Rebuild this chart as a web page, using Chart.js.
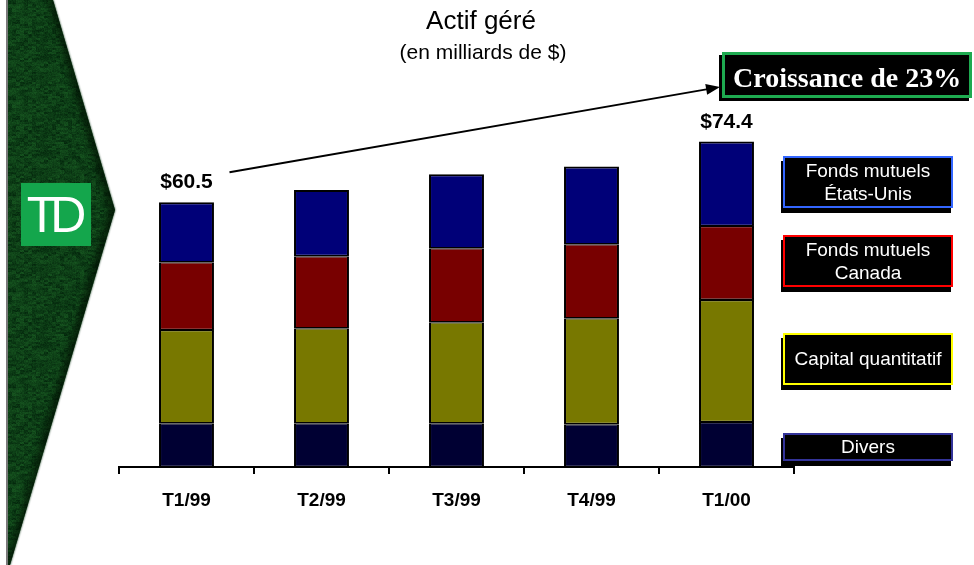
<!DOCTYPE html>
<html lang="fr">
<head>
<meta charset="utf-8">
<title>Actif géré</title>
<script src="https://cdn.jsdelivr.net/npm/chart.js@4.4.1/dist/chart.umd.min.js"></script>
<style>
  html, body { margin: 0; padding: 0; background: #ffffff; }
  canvas { display: block; }
</style>
</head>
<body>
<canvas id="chart" width="974" height="565"></canvas>
<script>
// Actif géré par trimestre (en milliards de $)
const categories = ['T1/99', 'T2/99', 'T3/99', 'T4/99', 'T1/00'];
const divers = [10.0, 10.0, 10.0, 9.8, 10.3];
const capitalQuantitatif = [21.3, 21.7, 23.1, 24.2, 27.9];
const fondsCanada = [15.5, 16.5, 16.9, 16.9, 16.9];
const fondsEtatsUnis = [13.7, 15.1, 16.9, 17.8, 19.3];
const seriesNames = [
  ['Divers'],
  ['Capital quantitatif'],
  ['Fonds mutuels', 'Canada'],
  ['Fonds mutuels', 'États-Unis']
];
const totalLabelIndexes = [0, 4];
const titleText = 'Actif géré';
const subtitleText = '(en milliards de $)';

const SANS = '"Liberation Sans", Arial, Helvetica, sans-serif';
const SERIF = '"Liberation Serif", "Times New Roman", serif';

const fills = ['#000033', '#787800', '#780000', '#000078'];
const frameColors = ['#333399', '#ffff00', '#ff0000', '#3366ff'];
const seriesData = [divers, capitalQuantitatif, fondsCanada, fondsEtatsUnis];
const totals = categories.map((_, i) => seriesData.reduce((s, d) => s + d[i], 0));

// deterministic grain for the green side panel
function grain(x, y) {
  const v = Math.sin(x * 12.9898 + y * 78.233) * 43758.5453;
  return v - Math.floor(v);
}
function makeLeather() {
  const size = 96;
  const c = document.createElement('canvas');
  c.width = size; c.height = size;
  const g = c.getContext('2d');
  const img = g.createImageData(size, size);
  for (let y = 0; y < size; y++) {
    for (let x = 0; x < size; x++) {
      const v = 0.4 * grain(x, y) + 0.6 * grain(Math.floor(x / 4), Math.floor(y / 2) + 400);
      const k = (y * size + x) * 4;
      img.data[k] = 3 + v * 20;
      img.data[k + 1] = 38 + v * 48;
      img.data[k + 2] = 12 + v * 20;
      img.data[k + 3] = 255;
    }
  }
  g.putImageData(img, 0, 0);
  const soft = document.createElement('canvas');
  soft.width = size; soft.height = size;
  const sg = soft.getContext('2d');
  sg.filter = 'blur(0.7px)';
  for (let dx = -size; dx <= size; dx += size)
    for (let dy = -size; dy <= size; dy += size) sg.drawImage(c, dx, dy);
  return soft;
}

const sidePanel = {
  id: 'sidePanel',
  beforeDraw(chart) {
    const ctx = chart.ctx;
    ctx.save();
    ctx.fillStyle = '#ffffff';
    ctx.fillRect(0, 0, chart.width, chart.height);

    const poly = [[8, 0], [53, 0], [115, 210], [10, 565], [8, 565]];
    ctx.filter = 'blur(0.8px)';
    ctx.beginPath();
    poly.forEach((p, i) => i ? ctx.lineTo(p[0], p[1]) : ctx.moveTo(p[0], p[1]));
    ctx.closePath();
    ctx.fillStyle = '#06300f';
    ctx.fill();
    ctx.filter = 'none';
    ctx.save();
    ctx.beginPath();
    poly.forEach((p, i) => i ? ctx.lineTo(p[0], p[1]) : ctx.moveTo(p[0], p[1]));
    ctx.closePath();
    ctx.clip();
    ctx.fillStyle = ctx.createPattern(makeLeather(), 'repeat');
    ctx.fillRect(0, 0, 130, 565);
    // darker bevel along the pointed edge
    ctx.filter = 'blur(3px)';
    ctx.strokeStyle = 'rgba(0,10,0,0.6)';
    ctx.lineWidth = 12;
    ctx.beginPath();
    ctx.moveTo(53, -5); ctx.lineTo(115, 210); ctx.lineTo(10, 570);
    ctx.stroke();
    ctx.filter = 'none';
    ctx.restore();

    // thin grey rule on the far left
    ctx.fillStyle = '#7a7a7a';
    ctx.fillRect(6, 0, 2, 565);

    // TD logo
    ctx.fillStyle = '#14a64c';
    ctx.fillRect(21, 183, 70, 63);
    ctx.fillStyle = '#ffffff';
    ctx.font = '50px "Liberation Sans Narrow", ' + SANS;
    ctx.textAlign = 'center';
    ctx.textBaseline = 'alphabetic';
    if ('letterSpacing' in ctx) ctx.letterSpacing = '-7px';
    ctx.fillText('TD', 53, 232);
    if ('letterSpacing' in ctx) ctx.letterSpacing = '0px';
    ctx.restore();
  },
  afterDraw(chart) {
    const ctx = chart.ctx;
    const xs = chart.scales.x;
    const ys = chart.scales.y;
    ctx.save();

    // titles
    ctx.fillStyle = '#000000';
    ctx.textAlign = 'center';
    ctx.textBaseline = 'alphabetic';
    ctx.font = '26px ' + SANS;
    ctx.fillText(titleText, 481, 29);
    ctx.font = '21px ' + SANS;
    ctx.fillText(subtitleText, 483, 59);

    // totals above first and last bars
    ctx.font = 'bold 21px ' + SANS;
    totalLabelIndexes.forEach(i => {
      const x = xs.getPixelForValue(i);
      const y = ys.getPixelForValue(totals[i]);
      ctx.fillText('$' + totals[i].toFixed(1), x, y - 14);
    });

    // growth box
    const first = totalLabelIndexes[0];
    const last = totalLabelIndexes[totalLabelIndexes.length - 1];
    const growth = Math.round((totals[last] / totals[first] - 1) * 100);
    const bx = 722, by = 52, bw = 250, bh = 46;
    ctx.fillStyle = '#000000';
    ctx.fillRect(bx - 3, by + 3, bw, bh);
    ctx.fillRect(bx, by, bw, bh);
    ctx.strokeStyle = '#1eaa50';
    ctx.lineWidth = 3;
    ctx.strokeRect(bx + 1.5, by + 1.5, bw - 3, bh - 3);
    ctx.fillStyle = '#ffffff';
    ctx.font = 'bold 28px ' + SERIF;
    ctx.textAlign = 'left';
    ctx.fillText('Croissance de ' + growth + '%', 733, 87);

    // arrow from the first total toward the growth box
    const sx = xs.getPixelForValue(first) + 43;
    const sy = ys.getPixelForValue(totals[first]) - 30;
    const ex = bx - 2, ey = 87;
    const ang = Math.atan2(ey - sy, ex - sx);
    ctx.strokeStyle = '#000000';
    ctx.lineWidth = 2;
    ctx.beginPath();
    ctx.moveTo(sx, sy);
    ctx.lineTo(ex - 11 * Math.cos(ang), ey - 11 * Math.sin(ang));
    ctx.stroke();
    ctx.fillStyle = '#000000';
    ctx.beginPath();
    ctx.moveTo(ex, ey);
    ctx.lineTo(ex - 14 * Math.cos(ang) + 5.5 * Math.sin(ang), ey - 14 * Math.sin(ang) - 5.5 * Math.cos(ang));
    ctx.lineTo(ex - 14 * Math.cos(ang) - 5.5 * Math.sin(ang), ey - 14 * Math.sin(ang) + 5.5 * Math.cos(ang));
    ctx.closePath();
    ctx.fill();

    // series key boxes, centred on the segments of the last bar
    const lastIdx = categories.length - 1;
    let base = 0;
    const lx = 783, lw = 170;
    ctx.font = '19px ' + SANS;
    ctx.textAlign = 'center';
    ctx.textBaseline = 'middle';
    seriesData.forEach((d, s) => {
      const mid = ys.getPixelForValue(base + d[lastIdx] / 2);
      base += d[lastIdx];
      const lines = seriesNames[s];
      const h = s === 0 ? 28 : 52;
      const top = Math.round(mid - h / 2) + (s === 0 ? 3 : -2);
      ctx.fillStyle = '#000000';
      ctx.fillRect(lx - 2, top + 5, lw, h);
      ctx.fillRect(lx, top, lw, h);
      ctx.strokeStyle = frameColors[s];
      ctx.lineWidth = 2;
      ctx.strokeRect(lx + 1, top + 1, lw - 2, h - 2);
      ctx.fillStyle = '#ffffff';
      const cy = top + h / 2 + 1;
      if (lines.length === 1) {
        ctx.fillText(lines[0], lx + lw / 2, cy);
      } else {
        ctx.fillText(lines[0], lx + lw / 2, cy - 11.5);
        ctx.fillText(lines[1], lx + lw / 2, cy + 11.5);
      }
    });
    ctx.restore();
  }
};

const datasets = seriesData.map((d, s) => ({
  label: seriesNames[s].join(' '),
  data: d,
  backgroundColor: fills[s],
  borderColor: '#000000',
  borderWidth: { left: 2, right: 2, top: s === seriesData.length - 1 ? 2 : 1.3, bottom: 1.3 },
  borderSkipped: false,
  barPercentage: 0.407,
  categoryPercentage: 1.0
}));

new Chart(document.getElementById('chart'), {
  type: 'bar',
  data: { labels: categories, datasets },
  options: {
    responsive: false,
    animation: false,
    devicePixelRatio: 1,
    layout: { padding: { left: 119, right: 180, top: 117, bottom: 58 } },
    plugins: {
      legend: { display: false },
      title: { display: false },
      tooltip: { enabled: false }
    },
    scales: {
      x: {
        stacked: true,
        grid: {
          display: true,
          drawOnChartArea: false,
          drawTicks: true,
          tickLength: 7,
          color: '#000000',
          lineWidth: 2,
          offset: true
        },
        border: { display: true, color: '#000000', width: 2 },
        ticks: {
          color: '#000000',
          padding: 15,
          font: { family: SANS, size: 19, weight: 'bold' }
        },
        afterFit(scale) { scale.height = 40; }
      },
      y: { stacked: true, display: false, min: 0, max: 80 }
    }
  },
  plugins: [sidePanel]
});
</script>
</body>
</html>
